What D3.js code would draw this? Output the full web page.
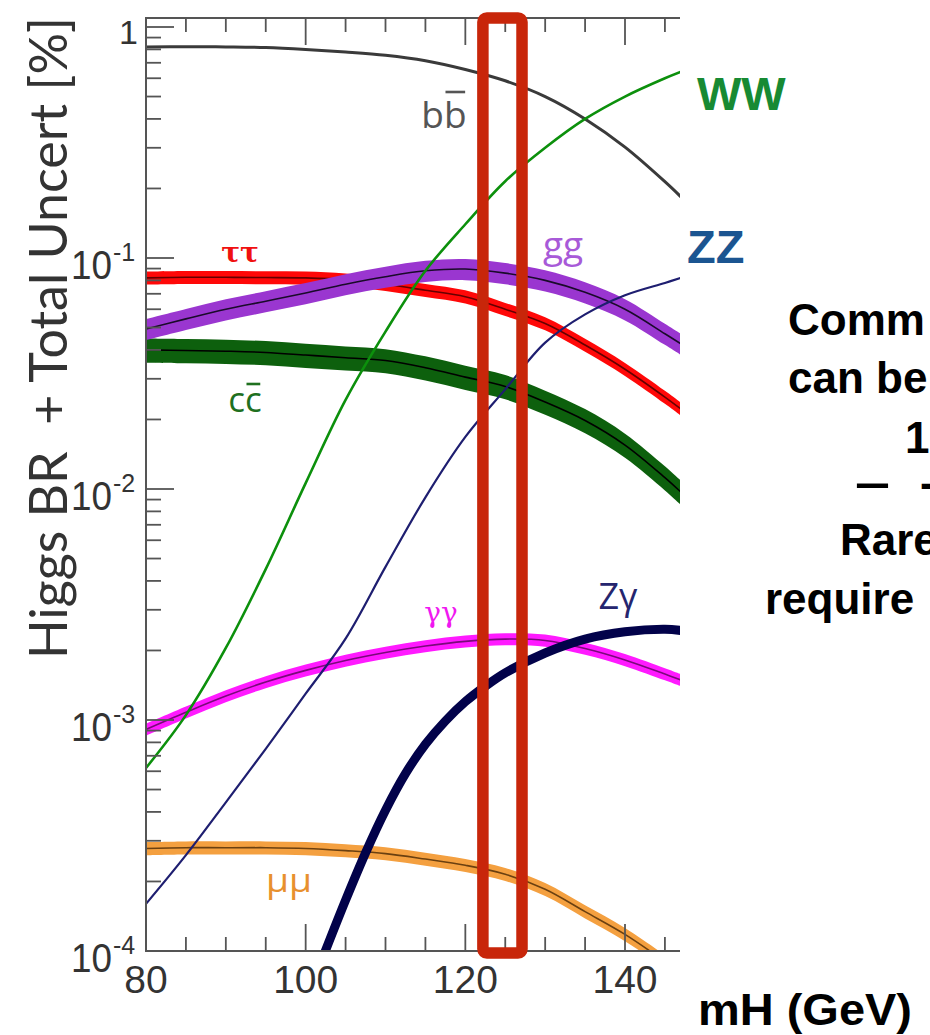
<!DOCTYPE html>
<html>
<head>
  <meta charset="UTF-8" />
  <title>Higgs BR</title>
  <style>
    body { margin: 0; background: #fff; }
    svg { display: block; }
  </style>
</head>
<body>
  <svg width="930" height="1035"></svg>

<script src="https://cdn.jsdelivr.net/npm/d3@7"></script>
<script>
  // Higgs mass grid (GeV) and branching ratios
  const masses = [80, 85, 90, 95, 100, 105, 110, 115, 120, 125, 130, 135, 140, 145, 147];
  const brBB = [0.82, 0.822, 0.82, 0.815, 0.8, 0.78, 0.755, 0.715, 0.655, 0.585, 0.5, 0.4, 0.302, 0.214, 0.184];
  const brWW = [6.2e-4, 1.05e-3, 2.05e-3, 4.5e-3, 0.0106, 0.0243, 0.048, 0.088, 0.14, 0.215, 0.3, 0.4, 0.5, 0.6, 0.64];
  const brZZ = [1.6e-4, 2.6e-4, 4.4e-4, 7.5e-4, 1.3e-3, 2.25e-3, 4.6e-3, 9.2e-3, 0.0168, 0.027, 0.043, 0.057, 0.069, 0.078, 0.082];
  const brTauTau = [0.082, 0.0825, 0.0825, 0.0823, 0.082, 0.0805, 0.077, 0.0725, 0.068, 0.06, 0.052, 0.042, 0.033, 0.025, 0.0222];
  const brGG = [0.0493, 0.0545, 0.06, 0.065, 0.0705, 0.077, 0.083, 0.088, 0.0896, 0.086, 0.08, 0.071, 0.06, 0.047, 0.0425];
  const brCC = [0.04, 0.0398, 0.0395, 0.039, 0.038, 0.037, 0.036, 0.0335, 0.0305, 0.0278, 0.0238, 0.0198, 0.0155, 0.0112, 0.0097];
  const brGamGam = [9.1e-4, 1.08e-3, 1.27e-3, 1.46e-3, 1.64e-3, 1.81e-3, 1.96e-3, 2.09e-3, 2.19e-3, 2.24e-3, 2.21e-3, 2.04e-3, 1.82e-3, 1.58e-3, 1.49e-3];
  const brMuMu = [2.78e-4, 2.8e-4, 2.8e-4, 2.8e-4, 2.78e-4, 2.72e-4, 2.64e-4, 2.5e-4, 2.35e-4, 2.15e-4, 1.85e-4, 1.48e-4, 1.18e-4, 0.9e-4, 0.8e-4];

  // Z gamma only opens above ~102 GeV
  const zgMasses = [102, 105, 107.5, 110, 112.5, 115, 117.5, 120, 122.5, 125, 130, 135, 140, 145, 147];
  const brZGam = [0.91e-4, 1.66e-4, 2.66e-4, 4.07e-4, 5.86e-4, 7.85e-4, 9.9e-4, 1.2e-3, 1.4e-3, 1.6e-3, 1.95e-3, 2.24e-3, 2.41e-3, 2.47e-3, 2.44e-3];

  // relative total uncertainty (half width of the bands)
  const uncTauTau = 0.065;
  const uncGG = 0.105;
  const uncCC = 0.12;
  const uncGamGam = 0.06;
  const uncMuMu = 0.065;

  // highlighted mass window
  const windowMass = [122.2, 127.1];

  // ticks
  const xTickLabels = [80, 100, 120, 140];
  const xMinorTicks = [85, 90, 95, 105, 110, 115, 125, 130, 135, 145];
  const yTickExps = [-4, -3, -2, -1, 0];

  const svg = d3.select("svg");

  const plotLeft = 146, plotRight = 680, plotTop = 18, plotBottom = 951;
  const x = d3.scaleLinear().domain([80, 140]).range([146, 625]);
  const y = d3.scaleLog().domain([1e-4, 1]).range([951, 27]);

  svg.append("rect").attr("width", 930).attr("height", 1035).attr("fill", "#fff");

  svg.append("clipPath").attr("id", "plot")
    .append("rect")
    .attr("x", plotLeft).attr("y", plotTop)
    .attr("width", plotRight - plotLeft).attr("height", plotBottom - plotTop);

  const plot = svg.append("g").attr("clip-path", "url(#plot)");

  const toPoints = (ms, vs, u) => ms.map((m, i) => ({ m: m, v: vs[i], u: u || 0 }));

  const curve = d3.curveCatmullRom.alpha(0.5);
  const line = d3.line()
    .x(d => x(d.m)).y(d => y(d.v))
    .curve(curve);
  const band = d3.area()
    .x(d => x(d.m))
    .y0(d => y(d.v * (1 - d.u)))
    .y1(d => y(d.v * (1 + d.u)))
    .curve(curve);

  function drawBand(pts, fill, mid) {
    plot.append("path").attr("d", band(pts)).attr("fill", fill);
    plot.append("path").attr("d", line(pts))
      .attr("fill", "none").attr("stroke", mid).attr("stroke-width", 1.6);
  }
  function drawLine(pts, color, w) {
    plot.append("path").attr("d", line(pts))
      .attr("fill", "none").attr("stroke", color).attr("stroke-width", w);
  }

  drawBand(toPoints(masses, brMuMu, uncMuMu), "#f4a040", "#6b4010");
  drawBand(toPoints(masses, brGamGam, uncGamGam), "#ff1aff", "#7a0a7a");
  drawBand(toPoints(masses, brCC, uncCC), "#0d600d", "#000");
  drawBand(toPoints(masses, brTauTau, uncTauTau), "#ff0808", "#600");
  drawBand(toPoints(masses, brGG, uncGG), "#9a36d0", "#1a0a2a");
  drawLine(toPoints(zgMasses, brZGam), "#02024a", 9);
  drawLine(toPoints(masses, brBB), "#3a3a3a", 3);
  drawLine(toPoints(masses, brZZ), "#1e1e70", 2.2);
  drawLine(toPoints(masses, brWW), "#0c900c", 2.6);

  // frame
  const axisColor = "#555";
  svg.append("path")
    .attr("d", `M${plotRight},${plotTop}H${plotLeft}V${plotBottom}H${plotRight}`)
    .attr("fill", "none").attr("stroke", axisColor).attr("stroke-width", 2);

  // x ticks, top and bottom, pointing inward
  const ticks = svg.append("g").attr("stroke", axisColor).attr("stroke-width", 1.8);
  xTickLabels.forEach(m => {
    ticks.append("line").attr("x1", x(m)).attr("x2", x(m)).attr("y1", plotBottom).attr("y2", plotBottom - 27);
    ticks.append("line").attr("x1", x(m)).attr("x2", x(m)).attr("y1", plotTop).attr("y2", plotTop + 27);
  });
  xMinorTicks.forEach(m => {
    ticks.append("line").attr("x1", x(m)).attr("x2", x(m)).attr("y1", plotBottom).attr("y2", plotBottom - 14);
    ticks.append("line").attr("x1", x(m)).attr("x2", x(m)).attr("y1", plotTop).attr("y2", plotTop + 14);
  });
  // y ticks
  yTickExps.forEach(e => {
    const v = Math.pow(10, e);
    ticks.append("line").attr("x1", plotLeft).attr("x2", plotLeft + 28).attr("y1", y(v)).attr("y2", y(v));
    if (e < 0) {
      for (let k = 2; k <= 9; k++) {
        ticks.append("line").attr("x1", plotLeft).attr("x2", plotLeft + 15)
          .attr("y1", y(k * v)).attr("y2", y(k * v));
      }
    }
  });

  // tick labels
  const tickFont = "'Liberation Sans', Arial, sans-serif";
  svg.append("g").selectAll("text").data(xTickLabels).join("text")
    .attr("x", d => x(d)).attr("y", 993)
    .attr("text-anchor", "middle")
    .attr("font-family", tickFont).attr("font-size", 39).attr("fill", "#333")
    .text(d => d);

  yTickExps.forEach(e => {
    const yy = y(Math.pow(10, e));
    if (e === 0) {
      svg.append("text").attr("x", 138).attr("y", yy + 17)
        .attr("text-anchor", "end")
        .attr("font-family", tickFont).attr("font-size", 34).attr("fill", "#333")
        .text("1");
      return;
    }
    svg.append("text").attr("x", 112).attr("y", yy + 21)
      .attr("text-anchor", "end")
      .attr("font-family", tickFont).attr("font-size", 40).attr("fill", "#333")
      .attr("textLength", 41).attr("lengthAdjust", "spacingAndGlyphs")
      .text("10");
    svg.append("text").attr("x", 113).attr("y", yy + 3)
      .attr("font-family", tickFont).attr("font-size", 25).attr("fill", "#333")
      .text("-" + (-e));
  });

  // y title
  svg.append("text")
    .attr("transform", "translate(67,338) rotate(-90)")
    .attr("text-anchor", "middle")
    .attr("font-family", "Lato, 'DejaVu Sans', sans-serif")
    .attr("font-size", 52).attr("fill", "#333")
    .attr("textLength", 642).attr("lengthAdjust", "spacingAndGlyphs")
    .style("white-space", "pre")
    .text("Higgs BR  + Total Uncert [%]");

  // channel labels in the plot
  const labFont = "'Open Sans', 'DejaVu Sans', sans-serif";

  // label made of a doubled letter, the second one with a bar over it
  function barLabel(ch, cx, base, size, color, barY) {
    const t = svg.append("text").attr("x", cx).attr("y", base).attr("text-anchor", "middle")
      .attr("font-family", labFont).attr("font-size", size).attr("fill", color)
      .text(ch + ch);
    const ext = t.node().getExtentOfChar(1);
    svg.append("line")
      .attr("x1", ext.x + 1.5).attr("x2", ext.x + ext.width - 1.5)
      .attr("y1", barY).attr("y2", barY)
      .attr("stroke", color).attr("stroke-width", 2.6);
  }
  barLabel("b", 444, 128, 37, "#555", 92);
  barLabel("c", 245, 412, 35, "#1f701f", 384);

  svg.append("text").attr("x", 240).attr("y", 262).attr("text-anchor", "middle")
    .attr("font-family", "'DejaVu Serif', serif").attr("font-weight", "bold")
    .attr("font-size", 28).attr("fill", "#f01010").text("\u03c4\u03c4");

  svg.append("text").attr("x", 563).attr("y", 258).attr("text-anchor", "middle")
    .attr("font-family", labFont).attr("font-size", 37).attr("fill", "#a85ad8").text("gg");

  svg.append("text").attr("x", 441).attr("y", 622).attr("text-anchor", "middle")
    .attr("font-family", "'DejaVu Serif', serif").attr("font-size", 28)
    .attr("fill", "#f018f0").text("\u03b3\u03b3");

  svg.append("text").attr("x", 618).attr("y", 609).attr("text-anchor", "middle")
    .attr("font-family", labFont).attr("font-size", 36).attr("fill", "#25256e").text("Z\u03b3");

  svg.append("text").attr("x", 289).attr("y", 892).attr("text-anchor", "middle")
    .attr("font-family", labFont).attr("font-size", 32)
    .attr("textLength", 46).attr("lengthAdjust", "spacingAndGlyphs")
    .attr("fill", "#e8902e").text("\u03bc\u03bc");

  // highlighted mass window
  svg.append("rect")
    .attr("x", x(windowMass[0])).attr("y", 18)
    .attr("width", x(windowMass[1]) - x(windowMass[0])).attr("height", 935)
    .attr("rx", 4)
    .attr("fill", "none").attr("stroke", "#c8260a").attr("stroke-width", 11.5);

  // annotations on the right
  const boldFont = "'Liberation Sans', Arial, sans-serif";
  svg.append("text").attr("x", 697).attr("y", 110)
    .attr("font-family", boldFont).attr("font-weight", "bold").attr("font-size", 47)
    .attr("fill", "#178a33").text("WW");
  svg.append("text").attr("x", 687).attr("y", 263)
    .attr("font-family", boldFont).attr("font-weight", "bold").attr("font-size", 47)
    .attr("fill", "#1b5591").text("ZZ");

  const notes = [
    { t: "Comm", x: 788, y: 335 },
    { t: "can be", x: 788, y: 393 },
    { t: "1", x: 905, y: 453 },
    { t: "\u2013", x: 855, y: 498, len: 35 },
    { t: "-", x: 920, y: 498 },
    { t: "Rare", x: 840, y: 555 },
    { t: "require", x: 765, y: 614 }
  ];
  svg.append("g").selectAll("text").data(notes).join("text")
    .attr("x", d => d.x).attr("y", d => d.y)
    .attr("font-family", boldFont).attr("font-weight", "bold").attr("font-size", 44)
    .attr("textLength", d => d.len || null)
    .attr("lengthAdjust", "spacingAndGlyphs")
    .attr("fill", "#000")
    .text(d => d.t);

  svg.append("text").attr("x", 698).attr("y", 1025)
    .attr("font-family", boldFont).attr("font-weight", "bold").attr("font-size", 44)
    .attr("textLength", 214).attr("lengthAdjust", "spacingAndGlyphs")
    .attr("fill", "#000").text("mH (GeV)");
</script>
</body>
</html>
